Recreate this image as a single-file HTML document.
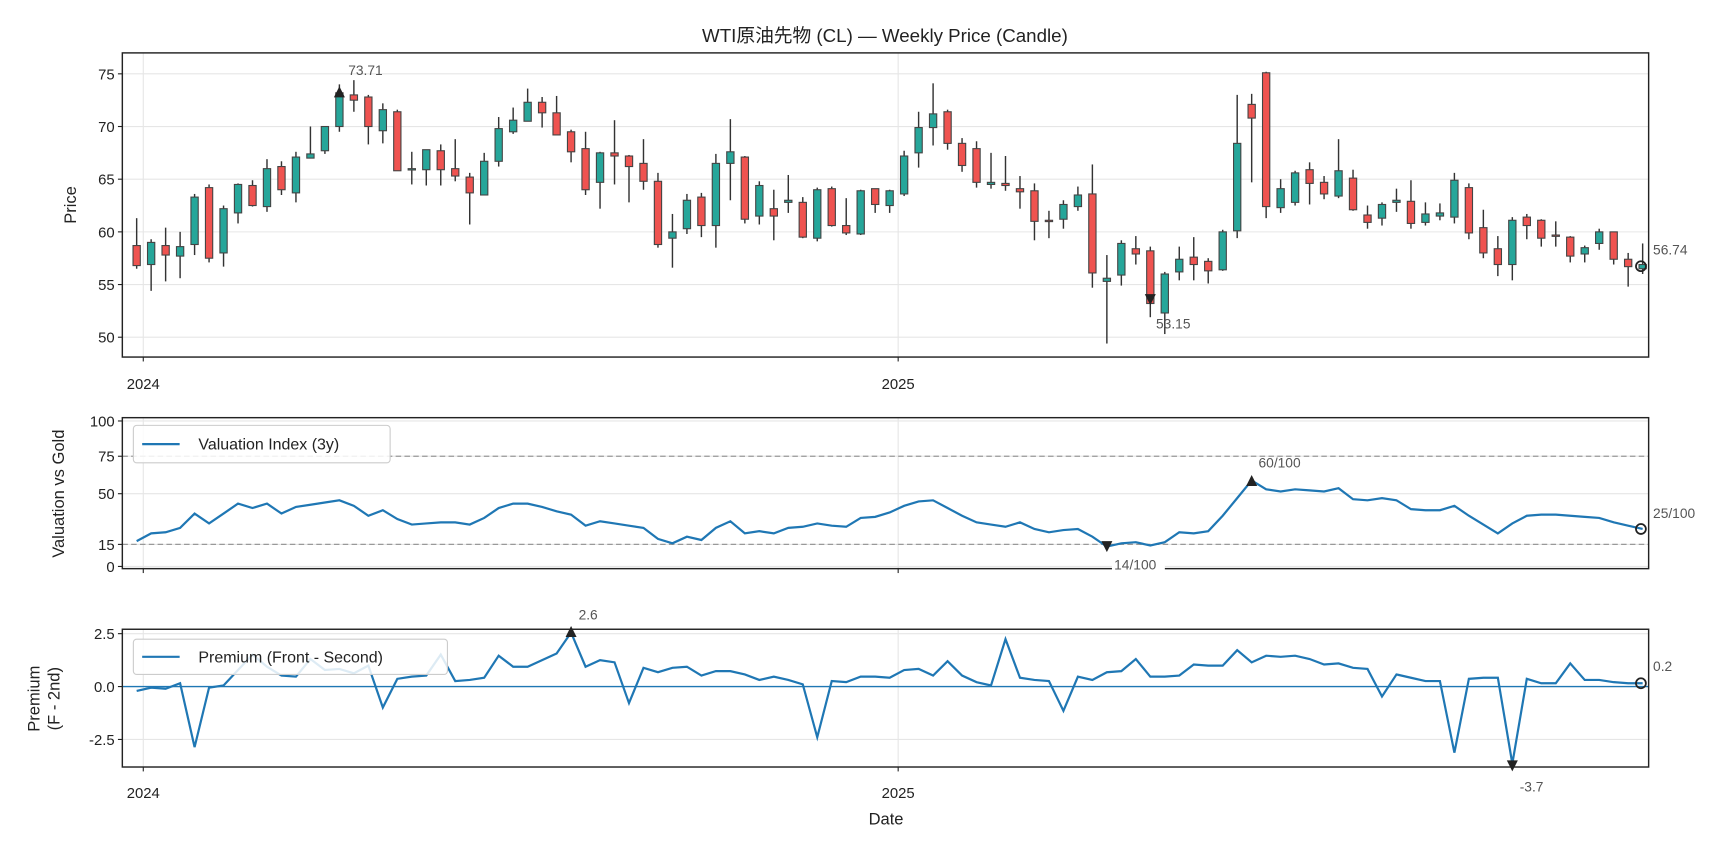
<!DOCTYPE html>
<html><head><meta charset="utf-8"><style>
html,body{margin:0;padding:0;background:#fff;}
svg{display:block;font-family:"Liberation Sans","Noto Sans CJK JP",sans-serif;}
</style></head><body>
<svg id="s" width="1728" height="849" viewBox="0 0 1568 770.4" xmlns="http://www.w3.org/2000/svg"></svg>
<script>
const C=[[58.7,56.8,61.3,56.5],[56.9,59,59.3,54.4],[58.7,57.8,60.4,55.3],[57.7,58.6,60,55.6],[58.8,63.3,63.6,57.8],[64.2,57.5,64.5,57.1],[58,62.2,62.5,56.7],[61.8,64.5,64.6,60.8],[64.4,62.5,64.9,62.4],[62.4,66,66.9,61.9],[66.2,64,66.7,63.5],[63.7,67.1,67.6,62.8],[67,67.4,70,67],[67.7,70,70,67.4],[70,73.2,74,69.5],[73,72.5,74.4,71.4],[72.8,70,73,68.3],[69.6,71.6,72.2,68.4],[71.4,65.8,71.6,65.8],[65.9,66,67.6,64.5],[65.9,67.8,67.8,64.4],[67.7,65.9,68.3,64.4],[66,65.3,68.8,64.8],[65.2,63.7,65.6,60.7],[63.5,66.7,67.5,63.5],[66.7,69.8,70.9,66.2],[69.5,70.6,71.8,69.3],[70.5,72.3,73.6,70.5],[72.3,71.3,72.8,69.9],[71.3,69.2,72.9,69.2],[69.5,67.6,69.7,66.6],[67.9,64,69.5,63.5],[64.7,67.5,67.6,62.2],[67.5,67.2,70.6,64.5],[67.2,66.2,67.3,62.8],[66.5,64.8,68.8,64],[64.8,58.8,65.6,58.5],[59.4,60,61.7,56.6],[60.3,63,63.6,59.8],[63.3,60.6,63.7,59.5],[60.6,66.5,67.4,58.5],[66.5,67.6,70.7,63],[67.1,61.2,67.2,60.8],[61.5,64.4,64.8,60.7],[62.2,61.5,64,59.2],[62.8,63,65.4,61.8],[62.8,59.5,63.3,59.4],[59.4,64,64.2,59.1],[64.1,60.6,64.3,60.5],[60.6,59.9,63.2,59.7],[59.8,63.9,64,59.7],[64.1,62.6,64.1,61.8],[62.5,63.9,64,61.8],[63.6,67.2,67.7,63.4],[67.5,69.9,71.4,66.1],[69.9,71.2,74.1,68.2],[71.4,68.4,71.6,67.8],[68.4,66.3,68.9,65.7],[67.9,64.7,68.6,64.2],[64.5,64.7,67.5,64.1],[64.6,64.4,67.2,63.9],[64.1,63.8,65.3,62.2],[63.9,61,64.6,59.2],[61.1,61,62,59.4],[61.2,62.6,63,60.3],[62.4,63.5,64.3,62],[63.6,56.1,66.4,54.7],[55.3,55.6,57.8,49.4],[55.9,58.9,59.2,54.9],[58.4,57.9,59.6,56.9],[58.2,53.2,58.6,51.9],[52.3,56,56.2,50.3],[56.2,57.4,58.6,55.4],[57.6,56.9,59.5,55.4],[57.2,56.3,57.5,55.1],[56.4,60,60.2,56.3],[60.1,68.4,73,59.4],[72.1,70.8,73.1,64.7],[75.1,62.4,75.2,61.3],[62.3,64.1,65,61.8],[62.8,65.6,65.8,62.5],[65.9,64.6,66.6,62.6],[64.7,63.6,65.3,63.1],[63.4,65.8,68.8,63.2],[65.1,62.1,65.9,62],[61.6,60.9,62.5,60.3],[61.3,62.6,62.8,60.6],[62.8,63,64.1,61.9],[62.9,60.8,64.9,60.3],[60.9,61.7,62.8,60.6],[61.5,61.8,62.7,61.1],[61.4,64.9,65.6,60.8],[64.2,59.9,64.6,59.3],[60.4,58,62.1,57.5],[58.4,56.9,59.6,55.8],[56.9,61.1,61.4,55.4],[61.4,60.6,61.7,59.3],[61.1,59.4,61.2,58.6],[59.7,59.6,61,58.6],[59.5,57.7,59.6,57.1],[57.9,58.5,58.7,57.1],[58.9,60,60.3,58.3],[60,57.4,60,56.9],[57.4,56.7,58,54.8],[56.5,56.9,58.9,56]];
const V=[491,484,483,479,466,475,466,457,461,457,466,460,458,456,454,459,468,463,471,476,475,474,474,476,470,461,457,457,460,464,467,477,473,475,477,479,489,493,487,490,479,473,484,482,484,479,478,475,477,478,470,469,465,459,455,454,461,468,474,476,478,474,480,483,481,480,487,496,493,492,495,492,483,484,482,468,452,436,444,446,444,445,446,443,453,454,452,454,462,463,463,459,468,476,484,475,468,467,467,468,469,470,474,477,480];
const P=[627,624,625,620,678,624,622,608,594,605,613,614,598,608,607,611,604,642,616,614,613,594,618,617,615,595,605,605,599,593,574,605,599,601,638,606,610,606,605,613,609,609,612,617,614,617,621,669,618,619,614,614,615,608,607,613,600,613,619,622,580,615,617,618,645,614,617,610,609,598,614,614,613,603,604,604,590,601,595,596,595,598,603,602,606,607,632,612,615,618,618,683,616,615,615,693,616,620,620,602,617,617,619,620,620];
const X=i=>124+13.14*i, Y=p=>306-(p-50)*9.56;
let s='';
const L=111,R=1496;
const t=(x,y,txt,o='')=>s+=`<text x="${x}" y="${y}" ${o}>${txt}</text>`;
function hgrid(ys,y0,y1){ys.forEach(y=>s+=`<line x1="${L}" x2="${R}" y1="${y}" y2="${y}" stroke="#e6e6e6" stroke-width="1"/>`);
[130,815].forEach(x=>s+=`<line x1="${x}" x2="${x}" y1="${y0}" y2="${y1}" stroke="#e6e6e6" stroke-width="1"/>`);}
hgrid([50,55,60,65,70,75].map(Y),48,324);
hgrid([382,414,448,494,514],379,516);
hgrid([575,623,671],571,696);
C.forEach((c,i)=>{const x=X(i),[o,cl,h,l]=c,up=cl>=o,col=up?'#26a69a':'#ef5350';
s+=`<line x1="${x}" x2="${x}" y1="${Y(h)}" y2="${Y(l)}" stroke="#333" stroke-width="1.3"/>`;
const y1=Y(Math.max(o,cl)),y2=Y(Math.min(o,cl));
s+=`<rect x="${x-3.3}" y="${y1}" width="6.6" height="${Math.max(y2-y1,1.2)}" fill="${col}" stroke="#444" stroke-width="1"/>`;});
s+=`<path d="M${X(14)-5},${Y(73.71)+9} L${X(14)},${Y(73.71)-1} L${X(14)+5},${Y(73.71)+9}Z" fill="#222"/>`;
s+=`<path d="M${X(70)-5},${Y(53.15)-9} L${X(70)},${Y(53.15)+1} L${X(70)+5},${Y(53.15)-9}Z" fill="#222"/>`;
s+=`<circle cx="1489" cy="${Y(56.74)}" r="4.5" fill="none" stroke="#222" stroke-width="1.6"/>`;
s+=`<line x1="${L}" x2="${R}" y1="414" y2="414" stroke="#999" stroke-dasharray="5,3" stroke-width="1.2"/>`;
s+=`<line x1="${L}" x2="${R}" y1="494" y2="494" stroke="#999" stroke-dasharray="5,3" stroke-width="1.2"/>`;
s+=`<polyline fill="none" stroke="#1f77b4" stroke-width="2" points="${V.map((v,i)=>X(i)+','+v).join(' ')}"/>`;
s+=`<path d="M${X(77)-5},441 L${X(77)},431 L${X(77)+5},441Z" fill="#222"/>`;
s+=`<path d="M${X(67)-5},491 L${X(67)},501 L${X(67)+5},491Z" fill="#222"/>`;
s+=`<circle cx="1489" cy="480" r="4.5" fill="none" stroke="#222" stroke-width="1.6"/>`;
s+=`<line x1="${L}" x2="${R}" y1="623" y2="623" stroke="#1f77b4" stroke-width="1.3"/>`;
s+=`<polyline fill="none" stroke="#1f77b4" stroke-width="2" points="${P.map((v,i)=>X(i)+','+v).join(' ')}"/>`;
s+=`<path d="M${X(30)-5},578 L${X(30)},568 L${X(30)+5},578Z" fill="#222"/>`;
s+=`<path d="M${X(95)-5},690 L${X(95)},700 L${X(95)+5},690Z" fill="#222"/>`;
s+=`<circle cx="1489" cy="620" r="4.5" fill="none" stroke="#222" stroke-width="1.6"/>`;
[[48,324],[379,516],[571,696]].forEach(([a,b])=>s+=`<rect x="${L}" y="${a}" width="${R-L}" height="${b-a}" fill="none" stroke="#222" stroke-width="1.3"/>`);
const fs='font-size="13.5" fill="#222"';
[50,55,60,65,70,75].forEach(p=>{s+=`<line x1="${L-4}" x2="${L}" y1="${Y(p)}" y2="${Y(p)}" stroke="#222"/>`;t(L-7,Y(p)+5,p,`text-anchor="end" ${fs}`);});
[[100,382],[75,414],[50,448],[15,494],[0,514]].forEach(([v,y])=>{s+=`<line x1="${L-4}" x2="${L}" y1="${y}" y2="${y}" stroke="#222"/>`;t(L-7,y+5,v,`text-anchor="end" ${fs}`);});
[['2.5',575],['0.0',623],['-2.5',671]].forEach(([v,y])=>{s+=`<line x1="${L-4}" x2="${L}" y1="${y}" y2="${y}" stroke="#222"/>`;t(L-7,y+5,v,`text-anchor="end" ${fs}`);});
[[324,353],[516,0],[696,724]].forEach(([yb,ly])=>[130,815].forEach((x,k)=>{s+=`<line x1="${x}" x2="${x}" y1="${yb}" y2="${yb+4}" stroke="#222"/>`;if(ly)t(x,ly,k?'2025':'2024',`text-anchor="middle" ${fs}`);}));
t(803,38,'WTI原油先物 (CL) — Weekly Price (Candle)','text-anchor="middle" font-size="17" fill="#222"');
t(69,186,'Price','text-anchor="middle" font-size="15" fill="#222" transform="rotate(-90 69 186)"');
t(58,448,'Valuation vs Gold','text-anchor="middle" font-size="15" fill="#222" transform="rotate(-90 58 448)"');
s+=`<text font-size="15" fill="#222" text-anchor="middle" transform="rotate(-90 36 634)"><tspan x="36" y="634">Premium</tspan><tspan x="36" y="652">(F - 2nd)</tspan></text>`;
t(804,748,'Date','text-anchor="middle" font-size="15" fill="#222"');
const af='font-size="12.5" fill="#555"';
t(316,68,'73.71',af);t(1049,298,'53.15',af);t(1500,231,'56.74',af);
t(1142,424,'60/100',af);
s+=`<rect x="1009" y="505" width="48" height="14" fill="#fff"/>`;t(1011,517,'14/100',af);
t(1500,470,'25/100',af);t(525,562,'2.6',af);t(1500,609,'0.2',af);t(1379,718,'-3.7',af);
s+=`<rect x="121" y="386" width="233" height="34" rx="3" fill="#fff" fill-opacity="0.85" stroke="#ccc"/><line x1="129" x2="163" y1="403" y2="403" stroke="#1f77b4" stroke-width="2"/>`;t(180,408,'Valuation Index (3y)','font-size="14.5" fill="#222"');
s+=`<rect x="121" y="580" width="285" height="32" rx="3" fill="#fff" fill-opacity="0.85" stroke="#ccc"/><line x1="129" x2="163" y1="596" y2="596" stroke="#1f77b4" stroke-width="2"/>`;t(180,601,'Premium (Front - Second)','font-size="14.5" fill="#222"');
document.getElementById('s').innerHTML=s;
</script>
</body></html>
